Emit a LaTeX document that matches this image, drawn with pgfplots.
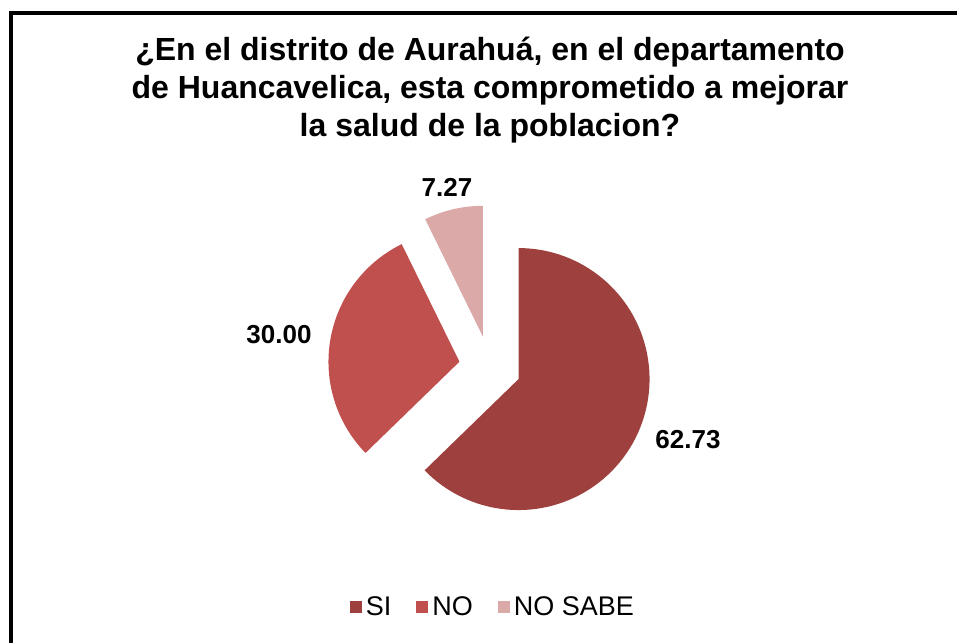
\documentclass[border=0pt]{standalone}
\usepackage{pgfplots}
\pgfplotsset{compat=1.18}
\usepackage{fontspec}
\setmainfont{Liberation Sans}
\definecolor{cSI}{RGB}{158,65,62}
\definecolor{cNO}{RGB}{192,80,77}
\definecolor{cNS}{RGB}{218,169,168}
% data (percentages)
\def\vSI{62.73}
\def\vNO{30.00}
\def\vNS{7.27}
% geometry (1 unit = 1pt)
\def\cx{490}\def\cy{275}\def\rr{131}\def\dd{31}
\pgfmathsetmacro{\aA}{90}
\pgfmathsetmacro{\aB}{\aA-3.6*\vSI}
\pgfmathsetmacro{\aC}{\aB-3.6*\vNO}
\pgfmathsetmacro{\aD}{\aC-3.6*\vNS}
\pgfmathsetmacro{\mA}{(\aA+\aB)/2}
\pgfmathsetmacro{\mB}{(\aB+\aC)/2}
\pgfmathsetmacro{\mC}{(\aC+\aD)/2}
\pgfmathsetmacro{\pxA}{\cx+\dd*cos(\mA)}\pgfmathsetmacro{\pyA}{\cy+\dd*sin(\mA)}
\pgfmathsetmacro{\pxB}{\cx+\dd*cos(\mB)}\pgfmathsetmacro{\pyB}{\cy+\dd*sin(\mB)}
\pgfmathsetmacro{\pxC}{\cx+\dd*cos(\mC)}\pgfmathsetmacro{\pyC}{\cy+\dd*sin(\mC)}
\begin{document}
\begin{tikzpicture}
\begin{axis}[
  scale only axis, width=957pt, height=642pt,
  xmin=0, xmax=957, ymin=0, ymax=642,
  hide axis, clip=false,
  legend columns=3,
  legend style={draw=none, fill=none, at={(axis cs:494,35)}, anchor=center,
    font=\fontsize{27}{30}\selectfont,
    /tikz/every even column/.append style={column sep=21pt},
    nodes={inner xsep=4pt}},
  legend image code/.code={\fill[#1] (0pt,-6pt) rectangle (12pt,6pt);},
]
\addplot[fill=cSI, draw=none, domain=\aB:\aA, samples=90]
  ({\pxA+\rr*cos(x)}, {\pyA+\rr*sin(x)}) -- (axis cs:\pxA,\pyA) -- cycle;
\addlegendentry{SI}
\addplot[fill=cNO, draw=none, domain=\aC:\aB, samples=60]
  ({\pxB+\rr*cos(x)}, {\pyB+\rr*sin(x)}) -- (axis cs:\pxB,\pyB) -- cycle;
\addlegendentry{NO}
\addplot[fill=cNS, draw=none, domain=\aD:\aC, samples=20]
  ({\pxC+\rr*cos(x)}, {\pyC+\rr*sin(x)}) -- (axis cs:\pxC,\pyC) -- cycle;
\addlegendentry{NO SABE}
\node[font=\fontsize{26}{30}\selectfont\bfseries] at (axis cs:688,202) {62.73};
\node[font=\fontsize{26}{30}\selectfont\bfseries] at (axis cs:279,307) {30.00};
\node[font=\fontsize{26}{30}\selectfont\bfseries] at (axis cs:447,455) {7.27};
\node[font=\fontsize{32}{38}\selectfont\bfseries, align=center] at (axis cs:490,552)
  {¿En el distrito de Aurahuá, en el departamento\\de Huancavelica, esta comprometido a mejorar\\la salud de la poblacion?};
\draw[line width=4pt] (axis cs:11,-10) -- (axis cs:11,629) -- (axis cs:970,629);
\end{axis}
\pgfresetboundingbox
\path (0,0) rectangle (957pt,642pt);
\end{tikzpicture}
\end{document}
